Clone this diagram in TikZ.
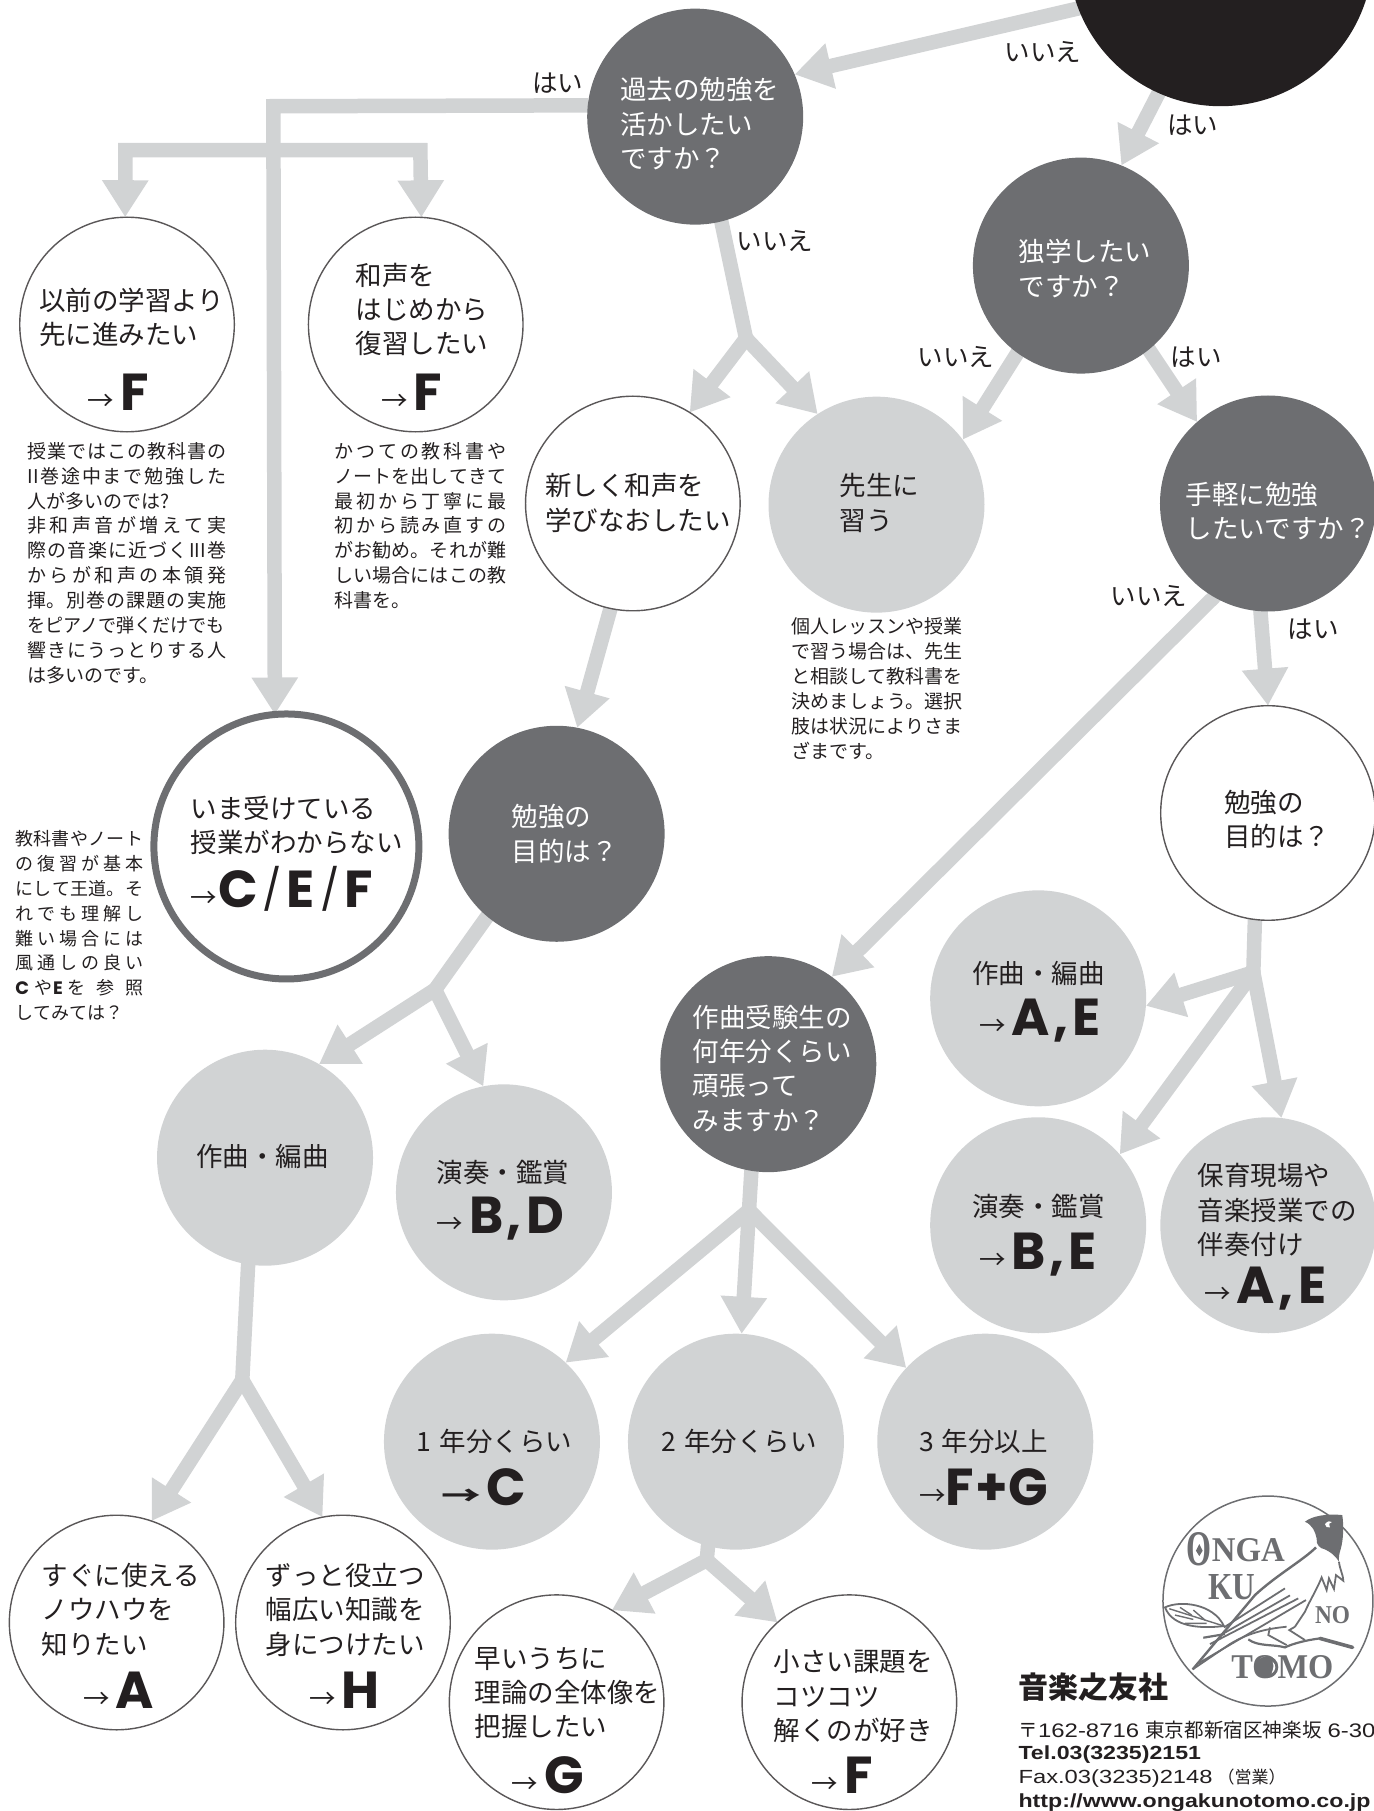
\documentclass[tikz,border=0pt]{standalone}
\usepackage{fontspec}
\usetikzlibrary{arrows.meta,backgrounds}
\setmainfont{Noto Sans CJK JP}
\newfontfamily\latfont{Poppins}
\newfontfamily\helvfont{Liberation Sans}
\newfontfamily\logofont{Liberation Serif}
\definecolor{cgray}{HTML}{D1D3D4}
\definecolor{cdark}{HTML}{6D6E71}
\definecolor{cblack}{HTML}{231F20}
\newcommand{\ans}[1]{→\hspace{6pt}{\latfont\bfseries\fontsize{52}{52}\selectfont #1}}
\newcommand{\cm}{\kern3pt,\kern5pt}
\newcommand{\sls}{\kern5pt\raisebox{3pt}{\scalebox{.78}{{\mdseries/}}}\kern5pt}
\newcommand{\jl}[1]{#1\par}
\newcommand{\rl}[1]{#1\hfill\null\par}
\newcommand{\smallset}{\XeTeXlinebreaklocale "ja"\XeTeXlinebreakskip=0pt plus 8pt minus 1pt\relax\parfillskip=0pt\parindent=0pt\rightskip=0pt\leftskip=0pt\tolerance=10000\hbadness=10000\hfuzz=4pt}
\tikzset{
  bubble/.style={circle,inner sep=0pt,outer sep=0pt,minimum size=216pt,text=cblack},
  darkb/.style={bubble,fill=cdark},
  grayb/.style={bubble,fill=cgray},
  whiteb/.style={bubble,fill=white,draw=cblack!75,line width=1.4pt,minimum size=214.6pt},
  txt/.style={inner sep=0pt,outer sep=0pt,anchor=west,align=left,text=cblack,font=\fontsize{26.5}{34.3}\selectfont},
  wtxt/.style={txt,text=white},
  lab/.style={inner sep=0pt,outer sep=0pt,text=cblack,font=\fontsize{25.5}{30}\selectfont},
  small/.style={inner sep=0pt,outer sep=0pt,anchor=north west,text=cblack,font=\fontsize{19}{24.9}\selectfont},
  edge/.style={draw=cgray,line width=14.5pt,line cap=round,-{Triangle[length=37pt,width=44pt]}},
  stem/.style={draw=cgray,line width=14.5pt,line cap=round},
  logoline/.style={draw=cdark,line width=1.8pt},
  logotxt/.style={inner sep=0pt,outer sep=0pt,text=cdark,font=\logofont\bfseries\fontsize{30}{30}\selectfont},
}
\begin{document}
\begin{tikzpicture}[x=1.1548pt,y=-1.1548pt]
\useasboundingbox (0pt,0pt) rectangle (1373pt,-1811pt);
% bubbles
\node[bubble,fill=cblack,minimum size=304.8pt] (blk) at (1057,-40) {};
\node[darkb] (kako) at (602,101) {};
\node[darkb] (dok) at (936,230) {};
\node[darkb] (teg) at (1098,436) {};
\node[grayb] (sen) at (759,437) {};
\node[whiteb] (atar) at (548,436) {};
\node[whiteb] (izen) at (110,281) {};
\node[whiteb] (wase) at (360,281) {};
\node[circle,inner sep=0pt,outer sep=0pt,minimum size=265pt,fill=white,draw=cdark,line width=7pt] (ima) at (248,733) {};
\node[darkb] (bend) at (482,722) {};
\node[whiteb] (benw) at (1098,704) {};
\node[grayb] (sakr) at (899,864.5) {};
\node[grayb] (ensr) at (899,1061) {};
\node[grayb] (hoik) at (1098.3,1061) {};
\node[darkb] (juk) at (665.3,921.5) {};
\node[grayb] (sakl) at (229.5,1002.5) {};
\node[grayb] (ensl) at (436.4,1032.5) {};
\node[grayb] (y1) at (426,1248.4) {};
\node[grayb] (y2) at (637.3,1248.4) {};
\node[grayb] (y3) at (853.2,1248.4) {};
\node[whiteb] (sugu) at (101,1405) {};
\node[whiteb] (zut) at (297,1405) {};
\node[whiteb] (haya) at (482,1474) {};
\node[whiteb] (chii) at (735.5,1474) {};
% junctions
\coordinate (jkakoA) at (236.7,92);
\coordinate (jkakoB) at (236.7,130);
\coordinate (jkakoL) at (108.6,130);
\coordinate (jkakoR) at (364,130);
\coordinate (j1) at (646,293);
\coordinate (jbend) at (376.7,857);
\coordinate (jsak) at (209.8,1195);
\coordinate (jben) at (1085.3,842);
\coordinate (jjuk) at (648.6,1048);
\coordinate (jy2) at (612,1351);
% connectors
\begin{pgfonlayer}{background}
\draw[edge] (blk.201) -- (kako.23);
\draw[edge] (blk.246) -- (dok.68);
\draw[edge] (dok.234) -- (sen.37);
\draw[edge] (dok.-51) -- (teg.131);
\draw[edge,line cap=butt] (kako.174) -- (jkakoA) -- (ima.95);
\draw[edge,line cap=butt] (jkakoB) -- (jkakoL) -- (izen.91);
\draw[edge,line cap=butt] (jkakoB) -- (jkakoR) -- (wase.87);
\draw[stem] (kako.-76) -- (j1);
\draw[edge] (j1) -- (atar.58);
\draw[edge] (j1) -- (sen.123);
\draw[edge] (atar.258) -- (bend.79);
\draw[stem] (bend.230) -- (jbend);
\draw[edge] (jbend) -- (sakl.60);
\draw[edge] (jbend) -- (ensl.101);
\draw[stem] (sakl.261) -- (jsak);
\draw[edge] (jsak) -- (sugu.71);
\draw[edge] (jsak) -- (zut.101);
\draw[edge] (teg.240) -- (juk.54);
\draw[edge] (teg.266) -- (benw.90);
\draw[stem] (benw.-97) -- (jben);
\draw[edge] (jben) -- (sakr.-4);
\draw[edge] (jben) -- (ensr.41);
\draw[edge] (jben) -- (hoik.83);
\draw[stem] (juk.261) -- (jjuk);
\draw[edge] (jjuk) -- (y1.47);
\draw[edge] (jjuk) -- (y2.87);
\draw[edge] (jjuk) -- (y3.137);
\draw[stem] (y2.255) -- (jy2);
\draw[edge] (jy2) -- (haya.59);
\draw[edge] (jy2) -- (chii.132);
\end{pgfonlayer}
% yes/no labels
\node[lab] (l1) at (483,72) {はい};
\node[lab] (l2) at (903,45) {いいえ};
\node[lab] (l3) at (1033,108) {はい};
\node[lab] (l4) at (671,209) {いいえ};
\node[lab] (l5) at (828,309) {いいえ};
\node[lab] (l6) at (1036,309) {はい};
\node[lab] (l7) at (995,516) {いいえ};
\node[lab] (l8) at (1137,545) {はい};
% bubble texts
\node[wtxt] (t1) at (537,107) {過去の勉強を\\活かしたい\\ですか？};
\node[wtxt] (t2) at (882,232.5) {独学したい\\ですか？};
\node[wtxt] (t3) at (1027,442.5) {手軽に勉強\\したいですか？};
\node[wtxt] (t4) at (443,722) {勉強の\\目的は？};
\node[wtxt] (t5) at (600,925) {作曲受験生の\\何年分くらい\\頑張って\\みますか？};
\node[txt] (t6) at (34,275) {以前の学習より\\先に進みたい};
\node[txt,anchor=west] (a6) at (76,340) {\ans{F}};
\node[txt] (t7) at (308,268) {和声を\\はじめから\\復習したい};
\node[txt] (a7) at (330,340) {\ans{F}};
\node[txt] (t8) at (727,435.5) {先生に\\習う};
\node[txt] (t9) at (472,435.5) {新しく和声を\\学びなおしたい};
\node[txt] (t10) at (165,714.5) {いま受けている\\授業がわからない};
\node[txt] (a10) at (165,770) {→\hspace{1pt}{\latfont\bfseries\fontsize{52}{52}\selectfont C\sls E\sls F}};
\node[txt] (t11) at (1060,709.5) {勉強の\\目的は？};
\node[txt] (t12) at (842,843) {作曲・編曲};
\node[txt] (a12) at (848,884) {\ans{A\cm E}};
\node[txt] (t13) at (842,1045) {演奏・鑑賞};
\node[txt] (a13) at (848,1086) {\ans{B\cm E}};
\node[txt] (t14) at (1037,1048) {保育現場や\\音楽授業での\\伴奏付け};
\node[txt] (a14) at (1043,1116) {\ans{A\cm E}};
\node[txt] (t15) at (378,1015) {演奏・鑑賞};
\node[txt] (a15) at (378,1055.6) {\ans{B\cm D}};
\node[txt] (t16) at (170,1001.6) {作曲・編曲};
\node[txt] (t17) at (361,1248) {1\hspace{8pt}年分くらい};
\node[txt] (a17) at (382,1288) {{\bfseries\scalebox{1.5}[1]{→}}\hspace{6pt}{\latfont\bfseries\fontsize{52}{52}\selectfont C}};
\node[txt] (t18) at (573,1248) {2\hspace{8pt}年分くらい};
\node[txt] (t19) at (796,1248) {3\hspace{8pt}年分以上};
\node[txt] (a19) at (796,1288) {→{\latfont\bfseries\fontsize{52}{52}\selectfont F\kern1pt+\kern1pt G}};
\node[txt] (t20) at (36,1394) {すぐに使える\\ノウハウを\\知りたい};
\node[txt] (a20) at (72,1464) {\ans{A}};
\node[txt] (t21) at (230,1394) {ずっと役立つ\\幅広い知識を\\身につけたい};
\node[txt] (a21) at (268,1464) {\ans{H}};
\node[txt] (t22) at (411,1466) {早いうちに\\理論の全体像を\\把握したい};
\node[txt] (a22) at (443,1537) {\ans{G}};
\node[txt] (t23) at (670,1469) {小さい課題を\\コツコツ\\解くのが好き};
\node[txt] (a23) at (703,1537) {\ans{F}};
% small notes
\node[small,text width=198.6pt] (n1) at (23.8,383) {\smallset
\jl{授業ではこの教科書の}\jl{II巻途中まで勉強した}\rl{人が多いのでは?}\jl{非和声音が増えて実}\jl{際の音楽に近づくIII巻}\jl{からが和声の本領発}\jl{揮。別巻の課題の実施}\jl{\scalebox{0.95}[1]{をピアノで弾くだけでも}}\jl{響きにうっとりする人}\rl{は多いのです。}};
\node[small,text width=171.5pt] (n2) at (289.8,383) {\smallset
\jl{かつての教科書や}\jl{ノートを出してきて}\jl{最初から丁寧に最}\jl{初から読み直すの}\jl{がお勧め。それが難}\jl{しい場合にはこの教}\rl{科書を。}};
\node[small,text width=171pt] (n3) at (685.5,535) {\smallset
\jl{個人レッスンや授業}\jl{で習う場合は、先生}\jl{と相談して教科書を}\jl{決めましょう。選択}\jl{肢は状況によりさま}\rl{ざまです。}};
\node[small,font=\fontsize{18}{24.9}\selectfont,text width=127.6pt] (n4) at (13.4,719) {\smallset
\jl{教科書やノート}\jl{の復習が基本}\jl{にして王道。そ}\jl{れでも理解し}\jl{難い場合には}\jl{風通しの良い}\jl{{\latfont\bfseries C}\hspace{5pt}や\hspace{1pt}{\latfont\bfseries E}\hspace{5pt}を\hfill 参\hfill 照}\rl{してみては？}};
% logo
\begin{scope}[shift={(978.5,1316.3)},x=.3333pt,y=-.3333pt]
\node[circle,draw=cdark,line width=1.5pt,inner sep=0pt,minimum size=210pt] (seal) at (414,243) {};
\fill[cdark] (525,5) .. controls (545,-12) and (590,-20) .. (637,-15) .. controls (642,20) and (640,60) .. (632,88) .. controls (628,100) and (626,110) .. (627,125) .. controls (615,105) and (600,95) .. (585,88) .. controls (570,85) and (558,75) .. (560,55) .. controls (556,35) and (548,15) .. (525,5) -- cycle;
\fill[white] (585,12) .. controls (592,2) and (602,2) .. (606,6) .. controls (598,6) and (596,12) .. (600,22) .. controls (592,24) and (586,20) .. (585,12) -- cycle;
\draw[logoline,line width=2.4pt] (558,82) .. controls (520,120) and (440,165) .. (375,225) -- (188,448);
\draw[logoline] (627,125) .. controls (630,150) and (640,165) .. (640,182) -- (618,165) -- (612,207) -- (597,175) -- (590,210) -- (575,172) .. controls (560,210) and (540,240) .. (525,275) -- (495,320);
\draw[logoline] (188,448) -- (300,372) .. controls (360,335) and (420,325) .. (470,320);
\draw[logoline] (465,205) -- (282,322);
\draw[logoline] (480,226) -- (272,345);
\draw[logoline] (505,235) -- (240,372);
\draw[logoline] (528,240) -- (205,430);
\draw[logoline] (495,320) -- (478,330) -- (525,360);
\draw[logoline] (420,322) -- (415,345) -- (470,375);
\draw[logoline,line width=2.2pt] (355,358) .. controls (385,380) and (430,372) .. (465,382) .. controls (490,370) and (530,360) .. (570,355);
\draw[logoline,line width=3.6pt,line cap=round] (570,355) -- (668,382);
\draw[logoline,line width=2.2pt] (220,353) -- (285,342);
\draw[logoline] (105,262) .. controls (150,240) and (250,250) .. (282,318) .. controls (220,325) and (130,325) .. (105,262) -- cycle;
\draw[logoline,line width=1.4pt] (118,266) -- (282,318);
\draw[logoline,line width=1.4pt] (150,262) -- (185,285) (190,270) -- (225,300) (135,285) -- (190,298) (165,310) -- (230,310);
\node[logotxt] (lo) at (208,88) {\resizebox{25pt}{33pt}{O}};
\fill[cdark] (208,72) -- (218,92) -- (208,108) -- (198,92) -- cycle;
\node[logotxt] (lnga) at (355,90) {\resizebox{73pt}{23pt}{NGA}};
\node[logotxt] (lku) at (305,202) {\resizebox{47pt}{25pt}{KU}};
\node[logotxt] (lno) at (608,285) {\resizebox{35pt}{17pt}{NO}};
\node[logotxt] (ltomo) at (457,440) {\resizebox{102pt}{23pt}{TOMO}};
\fill[cdark] (412,441) circle[radius=11pt];
\fill[white] (428,425) .. controls (440,435) and (438,452) .. (425,460) .. controls (430,448) and (432,436) .. (428,425) -- cycle;
\end{scope}
% publisher
\node[txt,font=\bfseries\fontsize{30}{34}\selectfont] (pub) at (882,1461) {音楽之友社};
\node[txt,font=\fontsize{19.6}{24}\selectfont] (addr) at (882,1498) {〒{\helvfont\scalebox{1.22}[1]{162-8716}}\hspace{6pt}東京都新宿区神楽坂\hspace{6pt}{\helvfont\scalebox{1.22}[1]{6-30}}};
\node[txt,font=\helvfont\bfseries\fontsize{19}{22}\selectfont] (tel) at (882,1519) {\scalebox{1.22}[1]{Tel.03(3235)2151}};
\node[txt,font=\helvfont\fontsize{19}{22}\selectfont] (fax) at (882,1540) {\scalebox{1.25}[1]{Fax.03(3235)2148}\hspace{5pt}{\rmfamily\fontsize{17}{20}\selectfont （営業）}};
\node[txt,font=\helvfont\bfseries\fontsize{19}{22}\selectfont] (web) at (882,1561) {\scalebox{1.22}[1]{http://www.ongakunotomo.co.jp}};
\end{tikzpicture}
\end{document}
